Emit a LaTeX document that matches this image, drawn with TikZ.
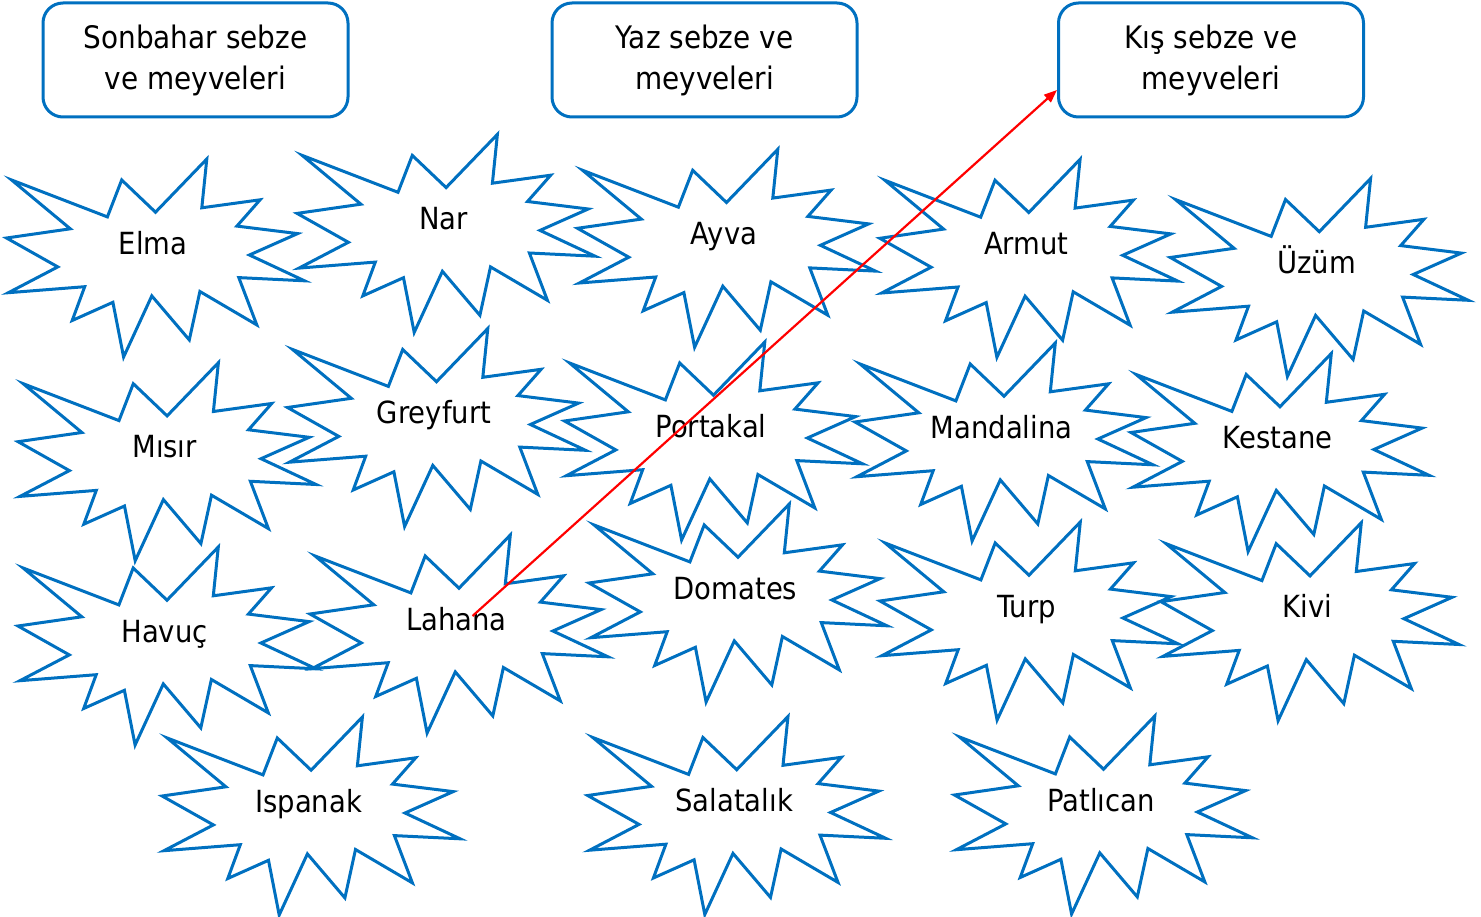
\documentclass[tikz,border=0pt]{standalone}
\usepackage{fontspec}
\setmainfont{DejaVu Sans}[FakeStretch=0.9]
\usetikzlibrary{arrows.meta}
\definecolor{mavi}{HTML}{0070C0}

\begin{document}
\begin{tikzpicture}[x=1pt,y=-1pt,
		kutu/.style={draw=mavi,line width=3pt,rounded corners=20pt,minimum width=305pt,minimum height=114pt,align=center,font=\fontsize{31}{41}\selectfont},
		etiket/.style={inner sep=0pt,text height=22.5pt,text depth=0pt,font=\fontsize{30.5}{36}\selectfont},
		patlama/.style={draw=mavi,line width=3pt,miter limit=25},
		ok/.style={draw=red,line width=2.2pt,-{Triangle[length=13pt,width=10pt]}}]
		\useasboundingbox (0,0) rectangle (1481,917);
		
		\node[kutu] (sonbahar) at (195.5,60) {Sonbahar sebze\\ve meyveleri};
		\node[kutu] (yaz) at (704.5,60) {Yaz sebze ve\\meyveleri};
		\node[kutu] (kis) at (1211,60) {Kış sebze ve\\meyveleri};
		
		\foreach \ad/\yazi/\px/\py in {elma/Elma/153/243, nar/Nar/443.6/218.4, ayva/Ayva/724/233.3,
			armut/Armut/1026.3/243.3, uzum/Üzüm/1316.8/262.5, misir/Mısır/164.6/446.7,
			greyfurt/Greyfurt/434/412.5, portakal/Portakal/711/426, mandalina/Mandalina/1001.5/427,
			kestane/Kestane/1277.5/437.5, havuc/Havuç/164.5/631, lahana/Lahana/456.5/619,
			domates/Domates/735.5/588, turp/Turp/1026.5/606, kivi/Kivi/1307.5/606.7,
			ispanak/Ispanak/308.6/801, salatalik/Salatalık/734.2/800.5, patlican/Patlıcan/1101/800}{
			\node[etiket] (\ad) at (\px,\py) {\yazi};
			\draw[patlama,shift={(\ad.center)}] (2.5,-30.8) -- (53.8,-84) -- (48.8,-35.2) -- (107.1,-43.2)
				-- (83.9,-16.9) -- (144.6,-9.4) -- (96.4,12) -- (151.5,37.8) -- (85.8,34.6) -- (103.8,81.9)
				-- (46.9,48.5) -- (36.3,96.9) -- (-1.2,52.9) -- (-29.4,114) -- (-40.1,59.3) -- (-80.8,77.5)
				-- (-68.3,43.7) -- (-144.6,49.7) -- (-95.2,23.9) -- (-146.5,-5) -- (-82.7,-14.2)
				-- (-141.4,-63) -- (-45.6,-26.1) -- (-31.3,-63) -- cycle;
		}
		
		\coordinate (bas) at (472.5,616);
		\draw[ok] (bas) -- ([yshift=-30pt]kis.west);
		
\end{tikzpicture}
\end{document}
